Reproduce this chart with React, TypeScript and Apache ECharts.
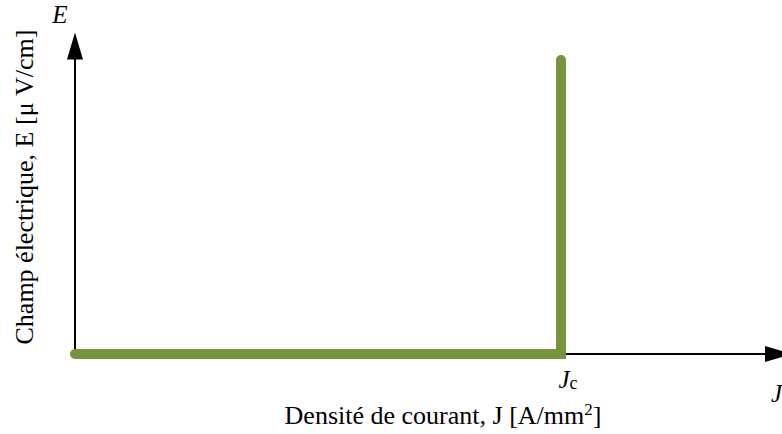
import React, { useEffect, useRef } from "react";
import * as echarts from "echarts";

const xPoints = [0, 1, 1];
const yPoints = [0, 0, 1];
const jcValue = 1;
const xLabelText = "Densité de courant, J [A/mm";
const yLabelText = "Champ électrique, E [μ V/cm]";

export default function App() {
  const ref = useRef<HTMLDivElement>(null);
  useEffect(() => {
    document.body.style.margin = "0";
    const chart = echarts.init(ref.current!, null, { renderer: "svg" });
    const serif = "Liberation Serif";
    chart.setOption({
      animation: false,
      backgroundColor: "#ffffff",
      grid: { left: 75, right: 3.5, top: 46, bottom: 80 },
      xAxis: {
        type: "value",
        min: 0,
        max: 1.4475,
        interval: 1,
        axisLine: {
          show: true,
          lineStyle: { color: "#000", width: 2 },
          symbol: ["none", "triangle"],
          symbolSize: [16, 27],
        },
        axisTick: { show: false },
        splitLine: { show: false },
        axisLabel: {
          margin: 12,
          padding: [0, 0, 0, 14],
          formatter: (v: number) => (Math.abs(v - jcValue) < 1e-9 ? "{j|J}{c|c}" : ""),
          rich: {
            j: { fontFamily: serif, fontStyle: "italic", fontSize: 25, color: "#000" },
            c: { fontFamily: serif, fontSize: 18, color: "#000", verticalAlign: "bottom", padding: [8, 0, 0, 0] },
          },
        },
      },
      yAxis: {
        type: "value",
        min: 0,
        max: 1.048,
        axisLine: {
          show: true,
          lineStyle: { color: "#000", width: 2 },
          symbol: ["none", "triangle"],
          symbolSize: [16, 27],
        },
        axisTick: { show: false },
        splitLine: { show: false },
        axisLabel: { show: false },
      },
      series: [
        {
          type: "line",
          data: xPoints.map((x, i) => [x, yPoints[i]]),
          symbol: "none",
          clip: false,
          lineStyle: { color: "#77933C", width: 10, cap: "round", join: "miter" },
        },
      ],
      graphic: [
        {
          type: "text",
          x: 60,
          y: 14,
          style: {
            text: "E",
            fontFamily: serif,
            fontStyle: "italic",
            fontSize: 25,
            fill: "#000",
            align: "center",
            verticalAlign: "middle",
          },
        },
        {
          type: "text",
          x: 771,
          y: 393,
          style: {
            text: "J",
            fontFamily: serif,
            fontStyle: "italic",
            fontSize: 25,
            fill: "#000",
            align: "left",
            verticalAlign: "middle",
          },
        },
        {
          type: "text",
          x: 443,
          y: 415,
          style: {
            text: "{a|" + xLabelText + "}{s|2}{a|]}",
            align: "center",
            verticalAlign: "middle",
            rich: {
              a: { fontFamily: serif, fontSize: 26, fill: "#000" },
              s: { fontFamily: serif, fontSize: 17, fill: "#000", verticalAlign: "top", padding: [0, 0, 12, 0] },
            },
          },
        },
        {
          type: "text",
          x: 24,
          y: 187,
          rotation: Math.PI / 2,
          style: {
            text: yLabelText,
            fontFamily: serif,
            fontSize: 26,
            fill: "#000",
            align: "center",
            verticalAlign: "middle",
          },
        },
      ],
    });
    return () => chart.dispose();
  }, []);
  return <div ref={ref} style={{ width: 782, height: 434 }} />;
}
